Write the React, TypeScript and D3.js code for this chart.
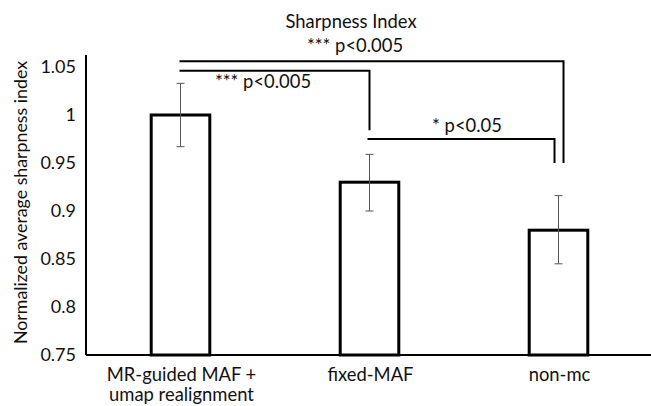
import { scaleBand, scaleLinear } from "d3";

const categories = ["MR-guided MAF + umap realignment", "fixed-MAF", "non-mc"];
const categoryLines = [["MR-guided MAF +", "umap realignment"], ["fixed-MAF"], ["non-mc"]];
const values = [1.0, 0.93, 0.88];
const errHigh = [1.033, 0.959, 0.916];
const errLow = [0.967, 0.9, 0.845];
const yTicks = [0.75, 0.8, 0.85, 0.9, 0.95, 1, 1.05];

// significance brackets: from category, to category, level of the bar, level where the drop ends
const brackets = [
  { from: 0, to: 2, level: 1.056, end: 0.95, dx: 5, label: "*** p<0.005" },
  { from: 0, to: 1, level: 1.046, end: 0.984, dx: 0, label: "*** p<0.005" },
  { from: 1, to: 2, level: 0.975, end: 0.95, dx: -4, label: "* p<0.05" },
];

const font = "Lato, 'Open Sans', sans-serif";

export default function App() {
  const width = 651;
  const height = 406;

  const xScale = scaleBand<string>().domain(categories).range([86, 653]).padding(0);
  const yScale = scaleLinear().domain([0.75, 1.05]).range([355, 67]);

  const barW = xScale.bandwidth() * 0.31;
  const cx = (i: number) => (xScale(categories[i]) ?? 0) + xScale.bandwidth() / 2;
  const y0 = yScale(0.75);

  return (
    <svg
      width={width}
      height={height}
      style={{ position: "absolute", left: 0, top: 0, background: "#fff" }}
      fontFamily={font}
    >
      <rect width={width} height={height} fill="#fff" />

      {/* title */}
      <text x={351} y={28} textAnchor="middle" fontSize={18.4} fill="#111">
        Sharpness Index
      </text>

      {/* y axis label */}
      <text
        transform={`translate(27,${(yScale(0.75) + 52) / 2 - 1}) rotate(-90)`}
        textAnchor="middle"
        fontSize={17.8}
        fill="#111"
      >
        Normalized average sharpness index
      </text>

      {/* y ticks */}
      {yTicks.map((t) => (
        <text
          key={t}
          x={76}
          y={yScale(t)}
          dy="0.35em"
          textAnchor="end"
          fontSize={18}
          fill="#111"
        >
          {String(t)}
        </text>
      ))}

      {/* bars */}
      {values.map((v, i) => (
        <rect
          key={`bar-${i}`}
          x={cx(i) - barW / 2}
          y={yScale(v)}
          width={barW}
          height={y0 - yScale(v)}
          fill="#fff"
          stroke="#000"
          strokeWidth={3}
        />
      ))}

      {/* axes */}
      <line x1={86} y1={y0} x2={width} y2={y0} stroke="#000" strokeWidth={2} />
      <line x1={86} y1={y0} x2={86} y2={yScale(1.05) - 12} stroke="#000" strokeWidth={2} />

      {/* error bars */}
      {values.map((_, i) => (
        <g key={`err-${i}`} stroke="#555" strokeWidth={1}>
          <line x1={cx(i)} x2={cx(i)} y1={yScale(errHigh[i])} y2={yScale(errLow[i])} />
          <line x1={cx(i) - 4} x2={cx(i) + 4} y1={yScale(errHigh[i])} y2={yScale(errHigh[i])} />
          <line x1={cx(i) - 4} x2={cx(i) + 4} y1={yScale(errLow[i])} y2={yScale(errLow[i])} />
        </g>
      ))}

      {/* x labels */}
      {categoryLines.map((lines, i) => (
        <text key={`xl-${i}`} x={cx(i) + 1} y={381} textAnchor="middle" fontSize={18.4} fill="#111">
          {lines.map((l, j) => (
            <tspan key={j} x={cx(i) + 1} dy={j === 0 ? 0 : 20}>
              {l}
            </tspan>
          ))}
        </text>
      ))}

      {/* significance brackets */}
      {brackets.map((b, i) => {
        const x1 = cx(b.from) + (b.from === 1 ? -2 : -1);
        const x2 = cx(b.to) + b.dx;
        const y = yScale(b.level);
        return (
          <path
            key={`br-${i}`}
            d={`M${x1},${y}H${x2}V${yScale(b.end)}`}
            fill="none"
            stroke="#000"
            strokeWidth={2}
          />
        );
      })}
      <text x={355} y={52} textAnchor="middle" fontSize={18.4} fill="#111">
        {brackets[0].label}
      </text>
      <text x={263} y={88} textAnchor="middle" fontSize={18.4} fill="#111">
        {brackets[1].label}
      </text>
      <text x={467} y={132} textAnchor="middle" fontSize={18.4} fill="#111">
        {brackets[2].label}
      </text>
    </svg>
  );
}
